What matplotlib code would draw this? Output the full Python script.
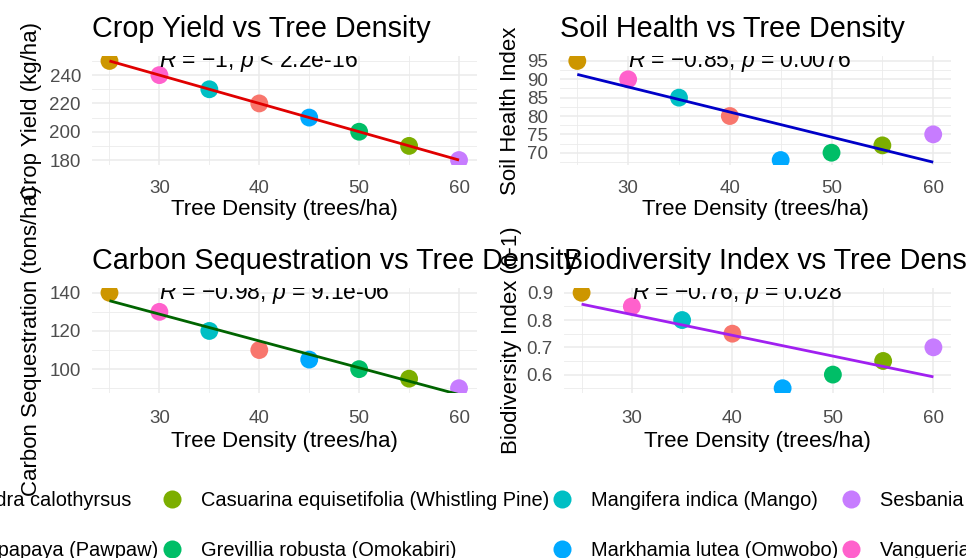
import numpy as np
import matplotlib
matplotlib.use("Agg")
import matplotlib.pyplot as plt
from matplotlib.lines import Line2D
from matplotlib.ticker import MultipleLocator

plt.rcParams['font.family'] = ['Liberation Sans', 'DejaVu Sans']
plt.rcParams['mathtext.fontset'] = 'custom'
plt.rcParams['mathtext.rm'] = 'Liberation Sans'
plt.rcParams['mathtext.it'] = 'Liberation Sans:italic'

# data (one row per species, alphabetical like the ggplot legend)
species = ["Calliandra calothyrsus", "Carica papaya (Pawpaw)",
           "Casuarina equisetifolia (Whistling Pine)", "Grevillia robusta (Omokabiri)",
           "Mangifera indica (Mango)", "Markhamia lutea (Omwobo)",
           "Sesbania sesban", "Vangueria infausta"]
colors = ["#F8766D", "#CD9600", "#7CAE00", "#00BE67",
          "#00BFC4", "#00A9FF", "#C77CFF", "#FF61CC"]
tree_density = [40, 25, 55, 50, 35, 45, 60, 30]
crop_yield = [220, 250, 190, 200, 230, 210, 180, 240]
soil_health = [80, 95, 72, 70, 85, 68, 75, 90]
carbon_seq = [110, 140, 95, 100, 120, 105, 90, 130]
biodiversity = [0.75, 0.90, 0.65, 0.60, 0.80, 0.55, 0.70, 0.85]

panels = [
    # values, title, ylabel, line colour, cor label, major/minor y step
    (crop_yield, "Crop Yield vs Tree Density", "Crop Yield (kg/ha)", "#E00000",
     r"$\mathit{R}$ = −1, $\mathit{p}$ < 2.2e-16", 20, 10),
    (soil_health, "Soil Health vs Tree Density", "Soil Health Index", "#0000C8",
     r"$\mathit{R}$ = −0.85, $\mathit{p}$ = 0.0076", 5, 2.5),
    (carbon_seq, "Carbon Sequestration vs Tree Density", "Carbon Sequestration (tons/ha)",
     "#006400", r"$\mathit{R}$ = −0.98, $\mathit{p}$ = 9.1e-06", 20, 10),
    (biodiversity, "Biodiversity Index vs Tree Density", "Biodiversity Index (0-1)",
     "#A020F0", r"$\mathit{R}$ = −0.76, $\mathit{p}$ = 0.028", 0.1, 0.05),
]

W, H = 966, 558
fig = plt.figure(figsize=(W / 100, H / 100), dpi=100)
fig.patch.set_facecolor('white')

# panel boxes in pixels: left, top, right, bottom
boxes = [(92, 56, 476.5, 165), (559.5, 56, 951, 165),
         (92, 288, 476.5, 393), (564, 288, 951, 393)]
ylab_x = [31.5, 511, 31.5, 511]
xtick_y = [186.7, 186.7, 416.7, 416.7]
xlab_y = [210, 210, 441, 441]

x = np.array(tree_density, dtype=float)
grid_col = '#EBEBEB'

for (vals, title, ylab, lcol, cor, major, minor), (l, t, r, b), lx, ty, xy in zip(
        panels, boxes, ylab_x, xtick_y, xlab_y):
    ax = fig.add_axes((l / W, 1 - b / H, (r - l) / W, (b - t) / H))
    y = np.array(vals, dtype=float)

    ax.scatter(x, y, s=165, c=colors, linewidths=0, zorder=3)
    k, c0 = np.polyfit(x, y, 1)
    xs = np.array([x.min(), x.max()])
    ax.plot(xs, k * xs + c0, color=lcol, lw=2.0, zorder=4, solid_capstyle='butt')

    ax.text(30, y.max(), cor, fontsize=16.5, ha='left', va='center',
            color='black', clip_on=True, zorder=5)

    xr = x.max() - x.min()
    yr = y.max() - y.min()
    ax.set_xlim(x.min() - 0.05 * xr, x.max() + 0.05 * xr)
    ax.set_ylim(y.min() - 0.05 * yr, y.max() + 0.05 * yr)

    ax.xaxis.set_major_locator(MultipleLocator(10))
    ax.xaxis.set_minor_locator(MultipleLocator(5))
    ax.yaxis.set_major_locator(MultipleLocator(major))
    ax.yaxis.set_minor_locator(MultipleLocator(minor))
    ax.grid(which='major', color=grid_col, lw=1.1, zorder=0)
    ax.grid(which='minor', color=grid_col, lw=0.6, zorder=0)
    ax.set_axisbelow(True)
    for s in ax.spines.values():
        s.set_visible(False)

    ax.tick_params(which='both', length=0, labelsize=13.5, labelcolor='#4D4D4D')
    ax.tick_params(axis='y', pad=8)
    ax.tick_params(axis='x', pad=(ty - 6.8 - b) * 0.72)
    if major < 1:
        ax.yaxis.set_major_formatter(lambda v, p: f"{v:.1f}")

    ax.set_title(title, loc='left', fontsize=20.7, pad=13.5)
    ax.set_xlabel("Tree Density (trees/ha)", fontsize=16)
    ax.set_ylabel(ylab, fontsize=16)
    ax.xaxis.label.set_va('center')
    ax.yaxis.label.set_va('center')
    ax.xaxis.set_label_coords(0.5, (b - xy) / (b - t))
    ax.yaxis.set_label_coords((lx - l) / (r - l), 0.5)

# legend, two rows, four columns
handles = [Line2D([], [], ls='none', marker='o', ms=13, mfc=c, mec='none')
           for c in colors]
leg = fig.legend(handles, species, loc='upper left', bbox_to_anchor=(0, 0.13),
                 ncol=4, frameon=False, fontsize=14.4, handlelength=1.0,
                 handletextpad=0.95, columnspacing=0.15, labelspacing=1.55,
                 borderpad=0, borderaxespad=0)

# shift the legend so that the Casuarina key sits where the reference has it
fig.canvas.draw()
rend = fig.canvas.get_renderer()
bb = leg.legend_handles[2].get_window_extent(rend)
dx = 171.7 - (bb.x0 + bb.x1) / 2
dy = (H - 498.7) - (bb.y0 + bb.y1) / 2
leg.set_bbox_to_anchor((dx / W, 0.13 + dy / H), transform=fig.transFigure)

fig.savefig("out.png", dpi=100, facecolor='white')
